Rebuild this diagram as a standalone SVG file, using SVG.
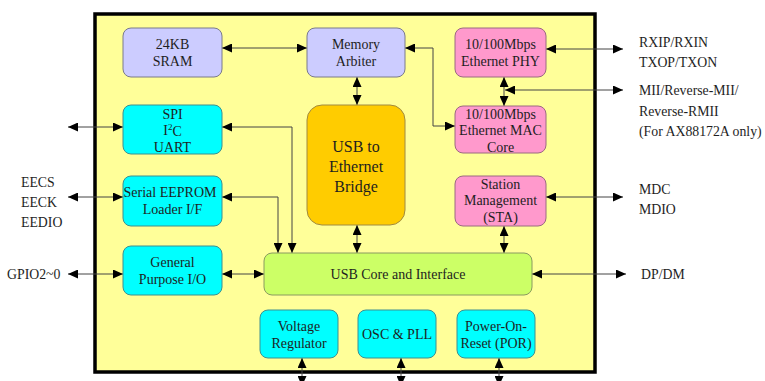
<svg xmlns="http://www.w3.org/2000/svg" width="765" height="381" viewBox="0 0 765 381">
<style>
text{font-family:"Liberation Serif","Times New Roman",serif;fill:#1e1e1e;dominant-baseline:central}
.n{font-size:14px;text-anchor:middle}
.b{font-size:16px;text-anchor:middle}
.e{font-size:13.8px}
.box{stroke-width:1}
.lav{fill:#CCCCFF;stroke:#7a7a8a}
.pink{fill:#FF99CC;stroke:#9a6a80}
.cyan{fill:#00FFFF;stroke:#3f8f8f}
.org{fill:#FFCC00;stroke:#a08a40}
.grn{fill:#CCFF66;stroke:#8a9a60}
.c{fill:none;stroke:#444;stroke-width:1;marker-start:url(#a);marker-end:url(#a)}
</style>
<defs>
<marker id="a" viewBox="0 0 10 9" refX="10" refY="4.5" markerWidth="10" markerHeight="9" markerUnits="userSpaceOnUse" orient="auto-start-reverse">
<path d="M0,0 L10,4.5 L0,9 Z" fill="#000"/>
</marker>
</defs>
<rect width="765" height="381" fill="#fff"/>
<rect x="95" y="14" width="500" height="358" fill="#FFFF99" stroke="#000" stroke-width="3.5"/>
<g id="connectors">
<path class="c" d="M222,48 H307"/>
<path class="c" d="M405,48 H433 V126 H455"/>
<path class="c" d="M357,77 V105"/>
<path class="c" d="M504,77 V106"/>
<path class="c" d="M505,90 H623"/>
<path class="c" d="M546,49 H623"/>
<path class="c" d="M546,197 H623"/>
<path class="c" d="M504,226 V253"/>
<path class="c" d="M357,225 V253"/>
<path class="c" d="M532,274 H626"/>
<path class="c" d="M222,127 H292 V253"/>
<path class="c" d="M222,197 H278 V253"/>
<path class="c" d="M222,274 H264"/>
<path class="c" d="M68,274 H123"/>
<path class="c" d="M68,197 H123"/>
<path class="c" d="M68,127 H123"/>
<path class="c" d="M302,358 V386"/>
<path class="c" d="M401,358 V386"/>
<path class="c" d="M499,358 V386"/>
</g>
<g id="sram"><rect class="box lav" x="123" y="28" width="99" height="49" rx="8"/><text class="n" x="172.5" y="44">24KB</text><text class="n" x="172.5" y="61.5">SRAM</text></g>
<g id="arbiter"><rect class="box lav" x="307" y="28" width="98" height="49" rx="8"/><text class="n" x="356" y="44">Memory</text><text class="n" x="356" y="61.5">Arbiter</text></g>
<g id="phy"><rect class="box pink" x="455" y="28" width="91" height="49" rx="8"/><text class="n" x="500.5" y="44">10/100Mbps</text><text class="n" x="500.5" y="61.5">Ethernet PHY</text></g>
<g id="mac"><rect class="box pink" x="455" y="106" width="91" height="47" rx="8"/><text class="n" x="500.5" y="114">10/100Mbps</text><text class="n" x="500.5" y="130.5">Ethernet MAC</text><text class="n" x="500.5" y="147">Core</text></g>
<g id="sta"><rect class="box pink" x="455" y="176" width="91" height="50" rx="8"/><text class="n" x="500.5" y="184">Station</text><text class="n" x="500.5" y="200.5">Management</text><text class="n" x="500.5" y="217">(STA)</text></g>
<g id="bridge"><rect class="box org" x="307" y="105" width="98" height="120" rx="15"/><text class="b" x="356" y="146">USB to</text><text class="b" x="356" y="166">Ethernet</text><text class="b" x="356" y="186">Bridge</text></g>
<g id="spi"><rect class="box cyan" x="123" y="105" width="99" height="49" rx="8"/><text class="n" x="172.5" y="114">SPI</text><text class="n" x="172.5" y="130.5">I<tspan font-size="9" dy="-4">2</tspan><tspan dy="4">C</tspan></text><text class="n" x="172.5" y="147">UART</text></g>
<g id="eeprom"><rect class="box cyan" x="123" y="176" width="99" height="50" rx="8"/><text class="n" x="170" y="192.5">Serial EEPROM</text><text class="n" x="172.5" y="209">Loader I/F</text></g>
<g id="gpio"><rect class="box cyan" x="123" y="246" width="99" height="49" rx="8"/><text class="n" x="172.5" y="262.5">General</text><text class="n" x="172.5" y="279">Purpose I/O</text></g>
<g id="usbcore"><rect class="box grn" x="264" y="253" width="268" height="42" rx="8"/><text class="n" x="398" y="274">USB Core and Interface</text></g>
<g id="vreg"><rect class="box cyan" x="260" y="310" width="78" height="48" rx="8"/><text class="n" x="299" y="326.5">Voltage</text><text class="n" x="299" y="343.5">Regulator</text></g>
<g id="osc"><rect class="box cyan" x="358" y="310" width="78" height="48" rx="8"/><text class="n" x="397" y="334.5">OSC &amp; PLL</text></g>
<g id="por"><rect class="box cyan" x="457" y="310" width="78" height="48" rx="8"/><text class="n" x="496" y="326.5">Power-On-</text><text class="n" x="496" y="343.5">Reset (POR)</text></g>
<g id="labels">
<text class="e" x="639" y="42">RXIP/RXIN</text>
<text class="e" x="639" y="62">TXOP/TXON</text>
<text class="e" x="639" y="90">MII/Reverse-MII/</text>
<text class="e" x="639" y="111.5">Reverse-RMII</text>
<text class="e" x="639" y="131">(For AX88172A only)</text>
<text class="e" x="639" y="189">MDC</text>
<text class="e" x="639" y="209">MDIO</text>
<text class="e" x="641" y="274">DP/DM</text>
<text class="e" x="21" y="182">EECS</text>
<text class="e" x="21" y="202">EECK</text>
<text class="e" x="21" y="222">EEDIO</text>
<text class="e" x="7" y="274">GPIO2~0</text>
</g>
</svg>
